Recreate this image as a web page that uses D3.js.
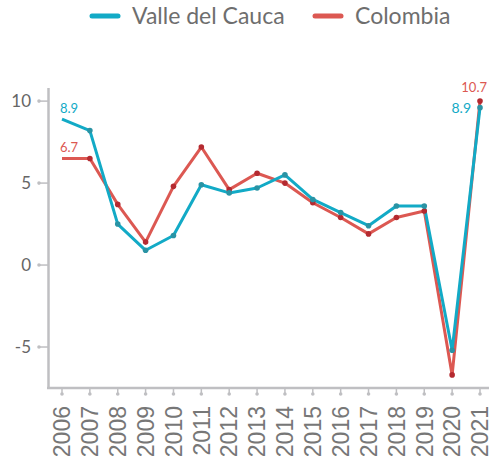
<!DOCTYPE html>
<html>
<head>
<meta charset="utf-8">
<script src="https://cdn.jsdelivr.net/npm/d3@7"></script>
<style>
  body { margin: 0; background: #fff; }
</style>
</head>
<body>
<script>
var years = [2006, 2007, 2008, 2009, 2010, 2011, 2012, 2013, 2014, 2015, 2016, 2017, 2018, 2019, 2020, 2021];
var valle = [8.9, 8.2, 2.5, 0.9, 1.8, 4.9, 4.4, 4.7, 5.5, 4.0, 3.2, 2.4, 3.6, 3.6, -5.2, 9.6];
var colombia = [6.5, 6.5, 3.7, 1.4, 4.8, 7.2, 4.6, 5.6, 5.0, 3.8, 2.9, 1.9, 2.9, 3.3, -6.7, 10.0];
var yTicks = [-5, 0, 5, 10];
var seriesNames = ['Valle del Cauca', 'Colombia'];
var lineColors = ['#12aac6', '#dc5852'];
var dotColors = ['#2a93a4', '#b42a30'];
// first / last point labels as printed on the chart
var startLabels = ['8.9', '6.7'];
var endLabels = ['8.9', '10.7'];

var svg = d3.select('body').append('svg').attr('width', 489).attr('height', 459);

var x = d3.scalePoint().domain(years).range([62, 480]);
var y = d3.scaleLinear().domain([-7.5, 10.8]).range([388, 88]);

var axisColor = '#bfbfc2';

/*AXIS FRAME*/
svg.append('line')
    .attr('x1', 48.5).attr('x2', 48.5)
    .attr('y1', y(10.8)).attr('y2', 389)
    .attr('stroke', axisColor).attr('stroke-width', 2.5);
svg.append('line')
    .attr('x1', 47).attr('x2', 489)
    .attr('y1', 388).attr('y2', 388)
    .attr('stroke', axisColor).attr('stroke-width', 2.5);

/*Y TICKS*/
var yt = svg.selectAll('g.ytick').data(yTicks).enter().append('g')
    .attr('class', 'ytick')
    .attr('transform', function(d) { return 'translate(0,' + y(d) + ')'; });
yt.append('line').attr('x1', 38).attr('x2', 48)
    .attr('stroke', axisColor).attr('stroke-width', 1.5);
yt.append('circle').attr('cx', 39).attr('r', 1.8).attr('fill', axisColor);
yt.append('text')
    .attr('x', 31).attr('dy', '0.36em')
    .attr('text-anchor', 'end')
    .attr('font-family', 'Lato, sans-serif').attr('font-size', 17)
    .attr('fill', '#666')
    .text(function(d) { return d; });

/*X TICKS*/
var xt = svg.selectAll('g.xtick').data(years).enter().append('g')
    .attr('class', 'xtick')
    .attr('transform', function(d) { return 'translate(' + x(d) + ',0)'; });
xt.append('line').attr('y1', 388).attr('y2', 394)
    .attr('stroke', axisColor).attr('stroke-width', 1.5);
xt.append('circle').attr('cy', 394).attr('r', 1.8).attr('fill', axisColor);
xt.append('text')
    .attr('transform', 'translate(0,406) rotate(-90)')
    .attr('dy', '0.36em')
    .attr('text-anchor', 'end')
    .attr('font-family', '"Liberation Sans", Arial, sans-serif').attr('font-size', 23)
    .attr('fill', '#777')
    .text(function(d) { return d; });

/*LINES*/
var allSeries = [valle, colombia];
var line = d3.line()
    .x(function(d, i) { return x(years[i]); })
    .y(function(d) { return y(d); });

// Colombia drawn first, Valle on top
[1, 0].forEach(function(s) {
    svg.append('path')
        .datum(allSeries[s])
        .attr('d', line)
        .attr('fill', 'none')
        .attr('stroke', lineColors[s])
        .attr('stroke-width', 3)
        .attr('stroke-linejoin', 'round');
});
[1, 0].forEach(function(s) {
    svg.selectAll('circle.dot' + s)
        .data(allSeries[s].slice(1))
        .enter().append('circle')
            .attr('class', 'dot' + s)
            .attr('cx', function(d, i) { return x(years[i + 1]); })
            .attr('cy', function(d) { return y(d); })
            .attr('r', 2.8)
            .attr('fill', dotColors[s]);
});

/*VALUE LABELS*/
var lblFont = 'Lato, sans-serif';
[0, 1].forEach(function(s) {
    svg.append('text')
        .attr('x', x(years[0]) - 2)
        .attr('y', y(allSeries[s][0]) - 6)
        .attr('font-family', lblFont).attr('font-size', 13)
        .attr('fill', lineColors[s])
        .text(startLabels[s]);
});
svg.append('text')
    .attr('x', x(years[15]) - 9)
    .attr('y', y(valle[15]) + 5)
    .attr('text-anchor', 'end')
    .attr('font-family', lblFont).attr('font-size', 14)
    .attr('fill', lineColors[0])
    .text(endLabels[0]);
svg.append('text')
    .attr('x', 487)
    .attr('y', y(colombia[15]) - 9)
    .attr('text-anchor', 'end')
    .attr('font-family', lblFont).attr('font-size', 13)
    .attr('fill', lineColors[1])
    .text(endLabels[1]);

/*LEGEND*/
var legendX = [90, 313];
seriesNames.forEach(function(name, s) {
    svg.append('line')
        .attr('x1', legendX[s] + 2).attr('x2', legendX[s] + 28)
        .attr('y1', 16).attr('y2', 16)
        .attr('stroke', lineColors[s]).attr('stroke-width', 5)
        .attr('stroke-linecap', 'round');
    svg.append('text')
        .attr('x', legendX[s] + 42).attr('y', 24)
        .attr('font-family', 'Lato, sans-serif').attr('font-size', 23)
        .attr('fill', '#6e6e6e')
        .text(name);
});
</script>
</body>
</html>
